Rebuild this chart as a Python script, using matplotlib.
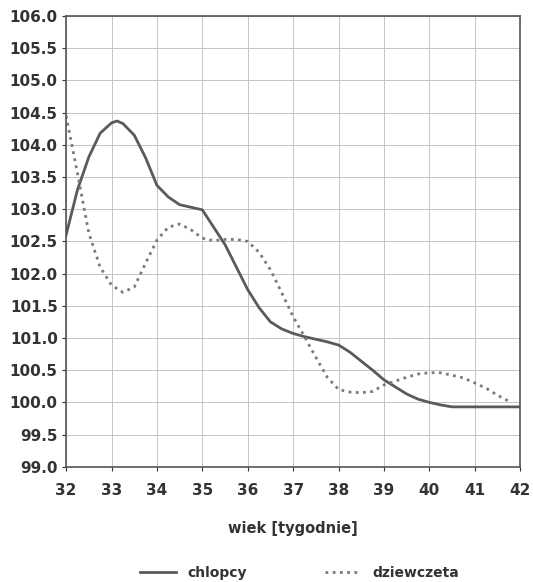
#!/usr/bin/env python
"""
Wiek [tygodnie] vs index - chlopcy / dziewczeta
"""
import numpy as np
import matplotlib
matplotlib.use("Agg")
import matplotlib.pyplot as plt

params = {'font.family': 'DejaVu Sans', 'font.weight': 'bold',
          'xtick.direction': 'out', 'ytick.direction': 'out'}
plt.rcParams.update(params)

# values
weeksBoys = [32.0, 32.25, 32.5, 32.75, 33.0, 33.12, 33.25, 33.5, 33.75, 34.0,
             34.25, 34.5, 34.75, 35.0, 35.25, 35.5, 35.75, 36.0, 36.25, 36.5,
             36.75, 37.0, 37.25, 37.5, 37.75, 38.0, 38.25, 38.5, 38.75, 39.0,
             39.25, 39.5, 39.75, 40.0, 40.25, 40.5, 41.0, 41.5, 42.0]
boys = [102.6, 103.3, 103.81, 104.18, 104.34, 104.37, 104.33, 104.15, 103.8, 103.37,
        103.19, 103.07, 103.03, 102.99, 102.72, 102.45, 102.1, 101.75, 101.47, 101.25,
        101.14, 101.07, 101.02, 100.98, 100.94, 100.89, 100.78, 100.64, 100.5, 100.35,
        100.24, 100.13, 100.05, 100.0, 99.96, 99.93, 99.93, 99.93, 99.93]

weeksGirls = [32.0, 32.25, 32.5, 32.75, 33.0, 33.25, 33.5, 33.75, 34.0, 34.25,
              34.5, 34.75, 35.0, 35.25, 35.5, 35.75, 36.0, 36.25, 36.5, 36.75,
              37.0, 37.25, 37.5, 37.75, 38.0, 38.25, 38.5, 38.75, 39.0, 39.25,
              39.5, 39.75, 40.0, 40.25, 40.5, 40.75, 41.0, 41.25, 41.5, 41.8]
girls = [104.45, 103.56, 102.63, 102.1, 101.82, 101.71, 101.79, 102.16, 102.52, 102.72,
         102.77, 102.68, 102.55, 102.51, 102.53, 102.53, 102.5, 102.33, 102.06, 101.7,
         101.33, 101.02, 100.7, 100.39, 100.2, 100.16, 100.15, 100.17, 100.27, 100.33,
         100.39, 100.44, 100.46, 100.46, 100.42, 100.38, 100.3, 100.22, 100.11, 100.0]

xTicks = np.arange(32, 43, 1)
yTicks = np.arange(99.0, 106.01, 0.5)

fig = plt.figure(figsize=(5.33, 5.82), dpi=100)
ax1 = fig.add_axes([0.124, 0.198, 0.852, 0.7745])

ax1.grid(True, color='#c4c4c4', linewidth=0.7)
ax1.set_axisbelow(True)

lineB, = ax1.plot(weeksBoys, boys, color='#5a5a5a', linewidth=2.0,
                  solid_joinstyle='round', label='chlopcy')
lineG, = ax1.plot(weeksGirls, girls, color='#7a7a7a', linewidth=2.0,
                  linestyle=(0, (1.0, 1.6)), label='dziewczeta')

ax1.set_xlim((32, 42))
ax1.set_ylim((99.0, 106.0))
ax1.set_xticks(xTicks)
ax1.set_yticks(yTicks)
ax1.set_yticklabels(['%.1f' % v for v in yTicks])
ax1.tick_params(axis='both', length=3, width=0.8, colors='#333333',
                labelsize=11, pad=3)
ax1.tick_params(axis='x', pad=9)
for s in ax1.spines.values():
    s.set_color('#555555')
    s.set_linewidth(1.2)

ax1.set_xlabel('wiek [tygodnie]', fontsize=10.5, fontweight='bold',
               color='#333333', labelpad=16)

fig.legend(handles=[lineB, lineG], loc='center', bbox_to_anchor=(0.562, 0.015),
           ncol=2, frameon=False, fontsize=10, handlelength=2.6,
           columnspacing=5.6, handletextpad=0.8, labelcolor='#333333')

plt.savefig('out.png', dpi=100)
plt.close(fig)
